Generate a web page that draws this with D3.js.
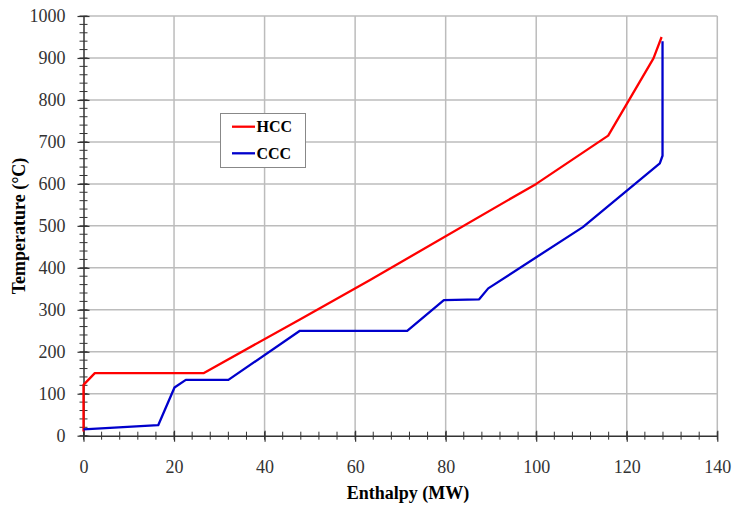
<!DOCTYPE html>
<html>
<head>
<meta charset="utf-8">
<script src="https://cdn.jsdelivr.net/npm/d3@7"></script>
<style>
  body { margin: 0; background: #fff; }
  svg text { font-family: "Liberation Serif", "Times New Roman", serif; }
</style>
</head>
<body>
<div class="chart"></div>
<script>
// hot and cold composite curves: enthalpy (MW) vs temperature (°C)
const hccEnthalpy = [0, 0, 2.5, 26.5, 47.8, 63.3, 100, 115.9, 125.9, 127.7];
const hccTemp     = [10, 121, 149, 149, 277, 371, 600, 715, 899, 950];
const cccEnthalpy = [0, 16.5, 20.1, 22.6, 32, 47.8, 71.5, 79.6, 87.4, 89.4, 110.3, 127.3, 127.9, 127.9];
const cccTemp     = [15, 25, 115, 133, 133, 250, 250, 323, 325, 351, 497, 649, 667, 940];

const seriesNames = ["HCC", "CCC"];
const seriesColors = ["#ff0000", "#0000cc"];

const xTicks = [0, 20, 40, 60, 80, 100, 120, 140];
const yTicks = [0, 100, 200, 300, 400, 500, 600, 700, 800, 900, 1000];

const svgWidth = 737, svgHeight = 505;
const margin = { top: 16, right: 20, bottom: 69, left: 83.5 };
const width = 717.3 - margin.left;
const height = 435.7 - margin.top;

const svg = d3.select(".chart").append("svg")
    .attr("width", svgWidth)
    .attr("height", svgHeight);

const chartGroup = svg.append("g")
    .attr("transform", `translate(${margin.left}, ${margin.top})`);

const x = d3.scaleLinear().domain([0, 140]).range([0, width]);
const y = d3.scaleLinear().domain([0, 1000]).range([height, 0]);

// grid
chartGroup.append("g").selectAll("line")
    .data(xTicks.slice(1))
    .enter().append("line")
    .attr("x1", d => x(d)).attr("x2", d => x(d))
    .attr("y1", 0).attr("y2", height)
    .attr("stroke", "#bcbcbc").attr("stroke-width", 1.5);

chartGroup.append("g").selectAll("line")
    .data(yTicks.slice(1))
    .enter().append("line")
    .attr("x1", 0).attr("x2", width)
    .attr("y1", d => y(d)).attr("y2", d => y(d))
    .attr("stroke", "#bcbcbc").attr("stroke-width", 1.5);

// minor ticks (cross the axis)
chartGroup.append("g").selectAll("line")
    .data(d3.range(0, 141, 4))
    .enter().append("line")
    .attr("x1", d => x(d)).attr("x2", d => x(d))
    .attr("y1", height - 4).attr("y2", height + 4)
    .attr("stroke", "#333").attr("stroke-width", 1);

chartGroup.append("g").selectAll("line")
    .data(d3.range(0, 1001, 20))
    .enter().append("line")
    .attr("x1", -4).attr("x2", 4)
    .attr("y1", d => y(d)).attr("y2", d => y(d))
    .attr("stroke", "#333").attr("stroke-width", 1);

// axes
const xAxis = chartGroup.append("g")
    .attr("transform", `translate(0, ${height})`)
    .call(d3.axisBottom(x).tickValues(xTicks).tickFormat(d3.format("d"))
        .tickSize(6).tickPadding(19).tickSizeOuter(0));

const yAxis = chartGroup.append("g")
    .call(d3.axisLeft(y).tickValues(yTicks).tickFormat(d3.format("d"))
        .tickSize(6).tickPadding(12).tickSizeOuter(0));

[xAxis, yAxis].forEach(a => {
    a.attr("font-family", null);
    a.select(".domain").attr("stroke", "#333").attr("stroke-width", 1.5);
    a.selectAll(".tick text")
        .style("font-family", "'Liberation Serif', 'Times New Roman', serif")
        .style("font-size", "18px")
        .attr("fill", "#333");
});
xAxis.selectAll(".tick line").attr("y1", -5).attr("y2", 6).attr("stroke", "#333").attr("stroke-width", 1.2);
yAxis.selectAll(".tick line").attr("x1", 6).attr("x2", -6).attr("stroke", "#333").attr("stroke-width", 1.2);

// curves
const line = d3.line().x(d => x(d[0])).y(d => y(d[1]));
const seriesData = [
    d3.zip(hccEnthalpy, hccTemp),
    d3.zip(cccEnthalpy, cccTemp)
];
seriesData.forEach((pts, i) => {
    chartGroup.append("path")
        .datum(pts)
        .attr("d", line)
        .attr("fill", "none")
        .attr("stroke", seriesColors[i])
        .attr("stroke-width", 2.3)
        .attr("stroke-linejoin", "round");
});

// axis titles
svg.append("text")
    .attr("x", 408).attr("y", 499)
    .attr("text-anchor", "middle")
    .attr("font-size", 18).attr("font-weight", "bold")
    .text("Enthalpy (MW)");

svg.append("text")
    .attr("transform", "translate(25, 226) rotate(-90)")
    .attr("text-anchor", "middle")
    .attr("font-size", 18).attr("font-weight", "bold")
    .text("Temperature (°C)");

// legend
const legend = svg.append("g");
legend.append("rect")
    .attr("x", 220.5).attr("y", 113.5)
    .attr("width", 85).attr("height", 54)
    .attr("fill", "#fff").attr("stroke", "#888").attr("stroke-width", 1);

seriesNames.forEach((name, i) => {
    const ly = 126.7 + i * 26.6;
    legend.append("line")
        .attr("x1", 232).attr("x2", 255)
        .attr("y1", ly).attr("y2", ly)
        .attr("stroke", seriesColors[i]).attr("stroke-width", 2.3);
    legend.append("text")
        .attr("x", 256.5).attr("y", ly + 5.5)
        .attr("font-size", 16).attr("font-weight", "bold")
        .text(name);
});
</script>
</body>
</html>
